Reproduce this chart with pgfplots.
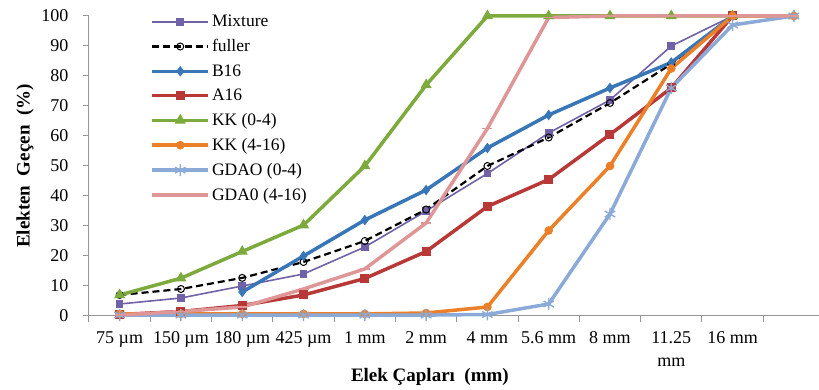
\documentclass[border=0pt]{standalone}
\usepackage{fontspec}
\setmainfont{Liberation Serif}
\usepackage{pgfplots}
\pgfplotsset{compat=1.18}
\definecolor{cMix}{RGB}{113,98,168}
\definecolor{cB16}{RGB}{56,118,184}
\definecolor{cA16}{RGB}{184,56,56}
\definecolor{cKKa}{RGB}{124,170,60}
\definecolor{cKKb}{RGB}{235,128,40}
\definecolor{cGa}{RGB}{140,170,215}
\definecolor{cGb}{RGB}{222,150,150}
\definecolor{cAx}{RGB}{150,150,150}
\begin{document}
\begin{tikzpicture}
\begin{axis}[
  name=ax, at={(0,0)}, anchor=south west,
  scale only axis, width=730pt, height=300pt,
  xmin=-0.5, xmax=11.41, ymin=0, ymax=100,
  clip=false,
  axis x line*=bottom, axis y line*=left,
  axis line style={draw=cAx, line width=1pt, -},
  ytick={0,10,...,100},
  xtick={-0.5,0.5,...,10.5},
  xticklabels={},
  extra x ticks={0,1,2,3,4,5,6,7,8,9,10},
  extra x tick labels={75 µm,150 µm,180 µm,425 µm,1 mm,2 mm,4 mm,5.6 mm,8 mm,{11.25\\mm},16 mm},
  extra x tick style={major tick length=0pt},
  tick align=outside, major tick length=6pt,
  tick style={draw=cAx, line width=1pt},
  tick label style={font=\fontsize{18}{19}\selectfont},
  xticklabel style={align=center, yshift=-12pt, font=\fontsize{18}{23}\selectfont},
  yticklabel style={xshift=-11pt},
  /pgf/number format/assume math mode=true,
  xlabel={Elek Çapları\ \ (mm)},
  ylabel={Elekten\ \ Geçen\ \ (\%)},
  every axis x label/.style={at={(rel axis cs:0.467,-0.203)}, anchor=center, font=\fontsize{19}{20}\selectfont\bfseries},
  every axis y label/.style={at={(rel axis cs:-0.0877,0.5)}, rotate=90, anchor=center, font=\fontsize{19}{20}\selectfont\bfseries},
  legend style={at={(rel axis cs:0.084,1.01)}, anchor=north west, draw=none, fill=none,
    font=\fontsize{17.5}{18}\selectfont, row sep=7.3pt, inner sep=0pt, nodes={inner sep=2pt}},
  legend cell align=left,
  legend image code/.code={\draw[mark repeat=2,mark phase=2,#1] plot coordinates {(0pt,0pt) (28pt,0pt) (56pt,0pt)};},
]
\addplot[color=cMix, line width=1.6pt, mark=square*, mark size=3pt, mark options={solid}] coordinates {
(0,4)(1,6)(2,10)(3,14)(4,23)(5,35)(6,47.5)(7,61)(8,72)(9,90)(10,100)};
\addlegendentry{Mixture}
\addplot[color=black, line width=2.2pt, dash pattern=on 7pt off 4pt, mark=o, mark size=3.5pt, mark options={solid, line width=1pt, fill=white}] coordinates {
(0,7)(1,9)(2,12.7)(3,18)(4,25)(5,35.5)(6,50)(7,59.5)(8,71)(9,84)(10,100)};
\addlegendentry{fuller}
\addplot[color=cB16, line width=3.5pt, mark=diamond*, mark size=4.5pt, mark options={solid, line width=1pt}] coordinates {
(2,8)(3,20)(4,32)(5,42)(6,56)(7,67)(8,76)(9,84.5)(10,100)};
\addlegendentry{B16}
\addplot[color=cA16, line width=3.5pt, mark=square*, mark size=4pt, mark options={solid, line width=1pt}] coordinates {
(0,0.5)(1,1.5)(2,3.5)(3,7)(4,12.5)(5,21.5)(6,36.5)(7,45.5)(8,60.5)(9,76)(10,100)};
\addlegendentry{A16}
\addplot[color=cKKa, line width=3.5pt, mark=triangle*, mark size=5.5pt, mark options={solid, line width=1pt}] coordinates {
(0,7)(1,12.6)(2,21.5)(3,30.3)(4,50)(5,77)(6,100)(7,100)(8,100)(9,100)(10,100)(11,100)};
\addlegendentry{KK (0-4)}
\addplot[color=cKKb, line width=3.5pt, mark=*, mark size=3.8pt, mark options={solid, line width=1pt}] coordinates {
(0,0.7)(1,0.7)(2,0.7)(3,0.7)(4,0.7)(5,1)(6,3)(7,28.5)(8,50)(9,82.5)(10,100)(11,100)};
\addlegendentry{KK (4-16)}
\addplot[color=cGa, line width=3.5pt, mark=asterisk, mark size=6pt, mark options={solid, line width=1.4pt}] coordinates {
(0,0.3)(1,0.3)(2,0.3)(3,0.3)(4,0.3)(5,0.3)(6,0.5)(7,4)(8,34)(9,76)(10,97)(11,100)};
\addlegendentry{GDAO (0-4)}
\addplot[color=cGb, line width=3.5pt, mark=-, mark size=5pt, mark options={solid, line width=1.5pt}] coordinates {
(0,0.3)(1,1.5)(2,3)(3,9)(4,15.7)(5,31)(6,62.5)(7,99.5)(8,100)(9,100)(10,100)(11,100)};
\addlegendentry{GDA0 (4-16)}
\end{axis}
\pgfresetboundingbox
\path (-89pt,-74pt) rectangle (730pt,316pt);
\end{tikzpicture}
\end{document}
